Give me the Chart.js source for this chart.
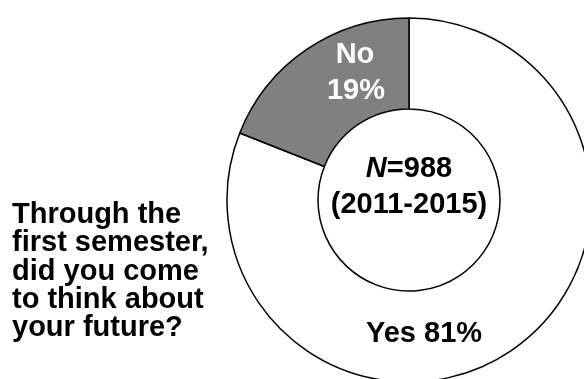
<!DOCTYPE html>
<html>
<head>
<meta charset="utf-8">
<script src="https://cdn.jsdelivr.net/npm/chart.js@4/dist/chart.umd.min.js"></script>
<style>
    html, body { margin: 0; padding: 0; background: #fff; overflow: hidden; }
    #wrap { position: relative; width: 584px; height: 379px; }
</style>
</head>
<body>
<div id="wrap"><canvas id="surveyChart"></canvas></div>
<script>
// survey answers
const categories = ['Yes', 'No'];
const shares = [81, 19];
const sampleSize = 988;
const surveyYears = '2011-2015';
const questionLines = ['Through the', 'first semester,', 'did you come', 'to think about', 'your future?'];

const sliceColors = ['#ffffff', '#808080'];
const FONT = '"Liberation Sans", Arial, sans-serif';
const SIZE = 29;

// text drawn on top of the ring: slice labels, sample size, question
const labelPlugin = {
    id: 'ringLabels',
    afterDatasetsDraw(chart) {
        const ctx = chart.ctx;
        const arc = chart.getDatasetMeta(0).data[0];
        const cx = arc.x, cy = arc.y;
        const bold = `bold ${SIZE}px ${FONT}`;

        ctx.save();
        ctx.textBaseline = 'alphabetic';
        ctx.textAlign = 'center';
        ctx.font = bold;

        ctx.fillStyle = '#ffffff';
        ctx.fillText(categories[1], cx - 54, cy - 137);
        ctx.fillText(shares[1] + '%', cx - 53, cy - 101);

        ctx.fillStyle = '#000000';
        ctx.fillText(`${categories[0]} ${shares[0]}%`, cx + 15, cy + 142);

        // N=988 with italic N
        const nFont = `italic bold ${SIZE}px ${FONT}`;
        const rest = '=' + sampleSize;
        ctx.font = nFont;
        const wN = ctx.measureText('N').width;
        ctx.font = bold;
        const wRest = ctx.measureText(rest).width;
        const x0 = cx - (wN + wRest) / 2;
        ctx.textAlign = 'left';
        ctx.font = nFont;
        ctx.fillText('N', x0, cy - 23);
        ctx.font = bold;
        ctx.fillText(rest, x0 + wN, cy - 23);

        ctx.textAlign = 'center';
        ctx.fillText(`(${surveyYears})`, cx, cy + 13);

        ctx.textAlign = 'left';
        questionLines.forEach((line, i) => {
            ctx.fillText(line, 12, 223 + i * 28.3);
        });
        ctx.restore();
    }
};

new Chart(document.getElementById('surveyChart'), {
    type: 'doughnut',
    data: {
        labels: categories,
        datasets: [{
            data: shares,
            backgroundColor: sliceColors,
            borderColor: '#000000',
            borderWidth: 1.5,
            clip: false
        }]
    },
    options: {
        responsive: true,
        maintainAspectRatio: false,
        animation: false,
        radius: 182,
        cutout: '50%',
        layout: { padding: { left: 234, right: 0, top: 21, bottom: 0 } },
        plugins: {
            legend: { display: false },
            tooltip: { enabled: false }
        }
    },
    plugins: [labelPlugin]
});
</script>
</body>
</html>
